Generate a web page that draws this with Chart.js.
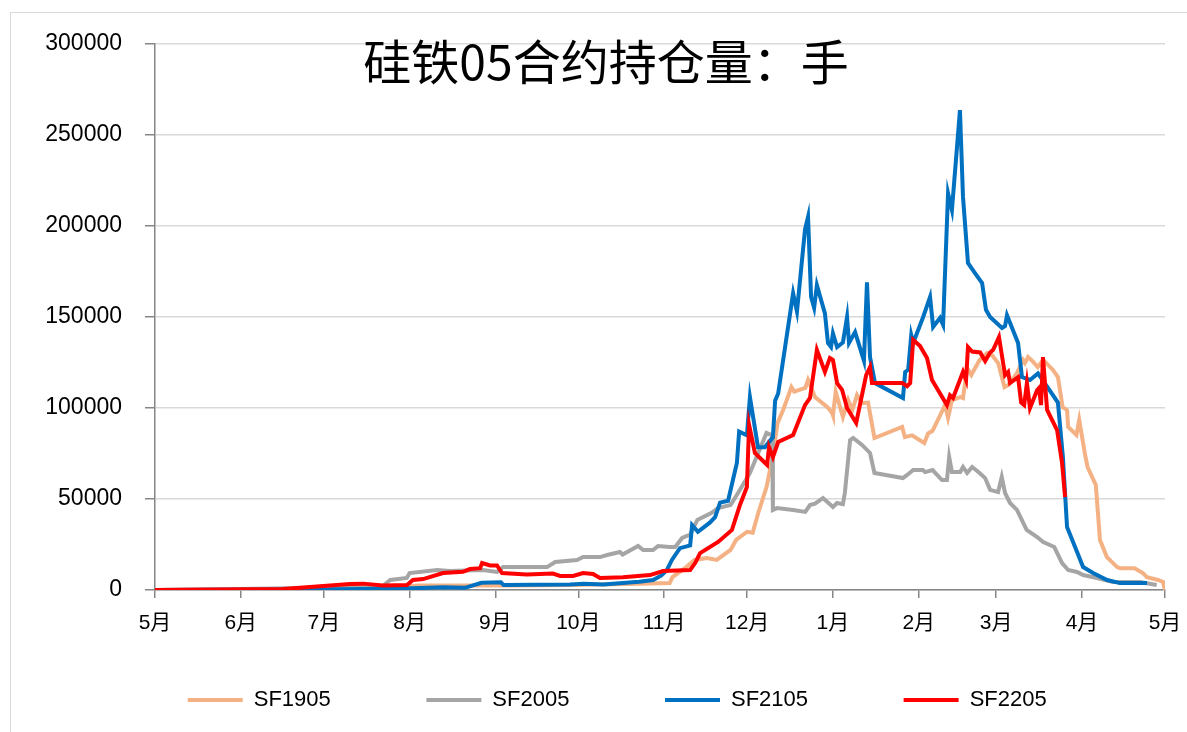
<!DOCTYPE html>
<html>
<head>
<meta charset="utf-8">
<script src="https://cdn.jsdelivr.net/npm/chart.js@4"></script>
<style>
  body { margin: 0; background: #fff; overflow: hidden; }
  #wrap { position: relative; width: 1187px; height: 732px; }
  #frame { position: absolute; left: 10px; top: 12px; width: 1200px; height: 740px; border: 1px solid #D9D9D9; }
</style>
</head>
<body>
<div id="wrap">
  <div id="frame"></div>
  <canvas id="chart"></canvas>
</div>
<script>
// x = days after 1 May (contract year), y = open interest (lots)
const monthDays = [0, 31, 61, 92, 123, 153, 184, 214, 245, 276, 304, 335, 365];
const monthLabels = ["5月", "6月", "7月", "8月", "9月", "10月", "11月", "12月", "1月", "2月", "3月", "4月", "5月"];
const yTicks = [0, 50000, 100000, 150000, 200000, 250000, 300000];

const sf1905Days = [0, 80, 95, 130, 150, 175, 186, 187, 192, 195, 199.5, 203, 208, 210, 214, 216, 218, 221, 223, 225, 227, 230, 231, 235, 236, 238.5, 243, 244.7, 245, 246, 248.6, 250.5, 252, 253.7, 255.5, 257.7, 260, 270, 271, 273.6, 278, 279.4, 281, 285.5, 286.6, 288, 291, 292, 293.5, 295, 298, 300.7, 302.5, 304.7, 307, 308.3, 311.5, 313.7, 314.4, 315.5, 317.3, 319, 321, 324.5, 326.3, 328, 329.6, 330, 333, 334, 336, 337, 340, 341.5, 344, 347.7, 348.8, 354, 357, 358.5, 362.5, 364.3, 365];
const sf1905Vals = [0, 500, 2500, 2500, 2800, 3500, 3800, 7100, 12600, 16500, 17600, 16500, 22000, 27500, 32000, 31500, 42300, 56600, 71400, 91800, 98900, 111500, 109000, 111000, 115400, 106000, 100500, 97300, 96000, 108800, 95100, 104400, 98900, 107100, 102700, 103000, 83500, 89600, 84000, 85000, 80800, 86000, 87500, 101600, 94500, 104400, 106000, 105500, 122000, 118100, 126400, 130200, 129000, 124700, 111500, 112500, 119200, 126400, 124700, 128000, 125500, 122500, 126400, 120900, 117000, 100500, 98900, 89600, 85200, 93400, 75300, 67600, 57700, 27500, 18100, 12600, 12000, 12000, 9300, 7100, 5500, 4400, 0];

const sf2005Days = [0, 31, 82, 85, 91, 92, 102, 106.6, 118.5, 123.6, 125.8, 141.7, 144.6, 152.5, 154.7, 160.8, 163.4, 168, 169, 174.6, 176.4, 180, 181.8, 186, 188, 190.5, 193.4, 196, 201, 203.5, 208, 210.7, 215, 218, 221, 223, 223.3, 224.8, 230.6, 235, 236.7, 238.5, 241.4, 245, 246.5, 248.6, 249.3, 251.2, 252.3, 255.5, 258.4, 260, 270.3, 271.8, 274, 277.5, 278.3, 281, 284.4, 286.2, 287, 288, 291, 292, 293.5, 295.3, 298, 300, 301.8, 304.7, 306, 307.2, 309, 311.5, 315, 318.8, 321, 325, 327.8, 330, 333.2, 335.4, 340.4, 346.2, 356, 362];
const sf2005Vals = [0, 500, 1800, 5500, 6600, 9300, 11000, 10400, 11000, 9900, 12600, 12600, 15400, 16500, 18100, 18100, 19200, 20900, 19500, 24200, 22000, 22000, 24200, 23600, 23600, 28600, 30500, 38500, 42300, 45000, 46700, 53300, 64300, 75300, 86300, 85000, 44000, 45000, 44000, 42900, 46700, 47500, 50500, 45600, 47800, 47200, 53300, 82400, 83500, 79700, 75300, 64300, 61500, 63200, 65900, 65900, 64800, 65900, 60400, 60400, 73100, 64800, 64800, 67600, 64300, 67600, 64300, 61500, 55000, 53800, 62100, 53300, 47800, 44000, 33000, 29100, 26400, 23600, 14800, 11000, 9900, 8200, 6600, 4400, 4400, 2700];

const sf2105Days = [0, 60, 90, 104, 112, 118, 125, 126, 150, 155, 162, 175, 180, 183, 185, 186.8, 189.7, 193.4, 194.1, 196.2, 200.5, 202.4, 204.2, 207.1, 210.3, 211.1, 213.9, 215, 217.9, 220.4, 223.3, 224.1, 225.2, 230.6, 232, 234.9, 236, 237.1, 238.2, 239.2, 242.1, 243.2, 244.3, 245, 246.5, 248.6, 250.1, 250.8, 253, 256.2, 257.3, 258.4, 260.2, 270.3, 271.1, 272.2, 273.3, 274, 277.6, 280.1, 281.2, 283.7, 284.8, 286.6, 288, 290.9, 292, 293.8, 296.4, 298.9, 300.3, 301.8, 306.1, 307.2, 307.9, 311.9, 313.3, 316.2, 319.1, 322.4, 326.3, 328.1, 329.6, 332.5, 335.4, 339, 344.1, 348.7, 358.5];
const sf2105Vals = [0, 300, 800, 1500, 1200, 4000, 4200, 2700, 3000, 3500, 3000, 4500, 5500, 8000, 11000, 16500, 23000, 24500, 35700, 32000, 37000, 40000, 48000, 49000, 70000, 87000, 85000, 106000, 78500, 78500, 84000, 104000, 108000, 163000, 153000, 198000, 205000, 161000, 155000, 167500, 152000, 135700, 133500, 141000, 133500, 136000, 150000, 135700, 141700, 126000, 169000, 128000, 113700, 105500, 119800, 121000, 140000, 135700, 150000, 161000, 144500, 149500, 145700, 218000, 208800, 263700, 216000, 179700, 174000, 168700, 154000, 150000, 144000, 145000, 151000, 135700, 117000, 115400, 119000, 111700, 103000, 73000, 34600, 23600, 12600, 9300, 5500, 3800, 3800];

const sf2205Days = [0, 46.3, 56, 70.5, 75.2, 82.4, 91.1, 93.2, 96.9, 104.1, 111.3, 113.8, 117.5, 118.2, 121.1, 123.6, 125.4, 134.4, 143.8, 146.4, 151.1, 154.7, 158.3, 160.8, 169.1, 178.9, 183.6, 193.4, 195.2, 197, 203.5, 208.5, 211.4, 213.9, 214.7, 216.8, 221.2, 221.9, 223.3, 225.2, 230.6, 234.9, 236.7, 239.2, 242.1, 243.9, 245, 246.5, 248.3, 250.1, 253.4, 257, 258.4, 259.1, 270, 271.8, 272.9, 274, 276.5, 279, 280.8, 286.2, 287.3, 288.4, 292, 293.1, 293.8, 295.3, 298.2, 300, 301.8, 302.9, 305, 307.2, 308.3, 309, 311.9, 313, 314.1, 315.1, 316.2, 318.8, 319.5, 320.2, 320.9, 322.4, 326, 327.8, 328.9];
const sf2205Vals = [0, 500, 1600, 3300, 3500, 2500, 2700, 5500, 6000, 9300, 10000, 11500, 12000, 14800, 13500, 13500, 9300, 8500, 9000, 7700, 7700, 9300, 8800, 6600, 7000, 8200, 10400, 11000, 14800, 20300, 26400, 33000, 46700, 56600, 90700, 75300, 68700, 78500, 73000, 81300, 85200, 101600, 105500, 131900, 119800, 127500, 126400, 113700, 110000, 100000, 91800, 118100, 122500, 113700, 113700, 112000, 113700, 137400, 134000, 127500, 115400, 101600, 107000, 105500, 119800, 115400, 133500, 131000, 130500, 125800, 130500, 132000, 139000, 118000, 119800, 113700, 117000, 103000, 101600, 113700, 100000, 109800, 111000, 101600, 128000, 98900, 87900, 69800, 51000];

function toPoints(days, vals) {
  return days.map((d, i) => ({ x: d, y: vals[i] }));
}

// title sits inside the plot, drawn after the lines
const titlePlugin = {
  id: "innerTitle",
  afterDraw(chart) {
    const ctx = chart.ctx;
    ctx.save();
    ctx.font = '48px "Noto Sans CJK SC", sans-serif';
    ctx.fillStyle = "#000";
    ctx.textAlign = "center";
    ctx.textBaseline = "middle";
    ctx.fillText("硅铁05合约持仓量：手", 606, 62);
    ctx.restore();
  }
};

const series = [
  { label: "SF1905", days: sf1905Days, vals: sf1905Vals, color: "#F4B183", order: 4 },
  { label: "SF2005", days: sf2005Days, vals: sf2005Vals, color: "#A5A5A5", order: 3 },
  { label: "SF2105", days: sf2105Days, vals: sf2105Vals, color: "#0070C0", order: 2 },
  { label: "SF2205", days: sf2205Days, vals: sf2205Vals, color: "#FF0000", order: 1 }
];

new Chart(document.getElementById("chart"), {
  type: "line",
  data: {
    datasets: series.map(s => ({
      label: s.label,
      data: toPoints(s.days, s.vals),
      borderColor: s.color,
      backgroundColor: s.color,
      borderWidth: 4,
      pointRadius: 0,
      tension: 0,
      order: s.order
    }))
  },
  options: {
    responsive: true,
    maintainAspectRatio: false,
    animation: false,
    layout: { padding: { left: 10, right: 22, top: 44, bottom: 11 } },
    scales: {
      x: {
        type: "linear",
        min: 0,
        max: 365,
        afterBuildTicks: scale => { scale.ticks = monthDays.map(v => ({ value: v })); },
        afterFit: scale => {
          scale.height = 89;
          scale.paddingLeft = 0;
          scale.paddingRight = 0;
        },
        ticks: {
          autoSkip: false,
          maxRotation: 0,
          padding: 13,
          color: "#000",
          font: { family: '"Liberation Sans", "Noto Sans CJK SC", sans-serif', size: 21 },
          callback: value => monthLabels[monthDays.indexOf(value)]
        },
        grid: { drawOnChartArea: false, tickLength: 8, color: "#868686", lineWidth: 1.5 },
        border: { color: "#868686", width: 1.5 }
      },
      y: {
        min: 0,
        max: 300000,
        afterBuildTicks: scale => { scale.ticks = yTicks.map(v => ({ value: v })); },
        afterFit: scale => { scale.width = 145; },
        ticks: {
          padding: 23,
          color: "#000",
          font: { family: '"Liberation Sans", sans-serif', size: 23 },
          callback: value => String(value)
        },
        grid: { color: "#D9D9D9", lineWidth: 1.5, tickLength: 10, tickColor: "#868686" },
        border: { color: "#868686", width: 1.5 }
      }
    },
    plugins: {
      legend: {
        position: "bottom",
        fullSize: false,
        labels: {
          boxWidth: 55,
          boxHeight: 4,
          padding: 10,
          color: "#000",
          font: { family: '"Liberation Sans", sans-serif', size: 22 },
          sort: (a, b) => a.datasetIndex - b.datasetIndex,
          generateLabels: chart => {
            const items = Chart.defaults.plugins.legend.labels.generateLabels(chart);
            items.forEach(item => {
              item.fillStyle = item.strokeStyle;
              item.lineWidth = 0;
              item.text = item.text + " ".repeat(14);
            });
            return items;
          }
        }
      },
      tooltip: { enabled: false }
    }
  },
  plugins: [titlePlugin]
});
</script>
</body>
</html>
